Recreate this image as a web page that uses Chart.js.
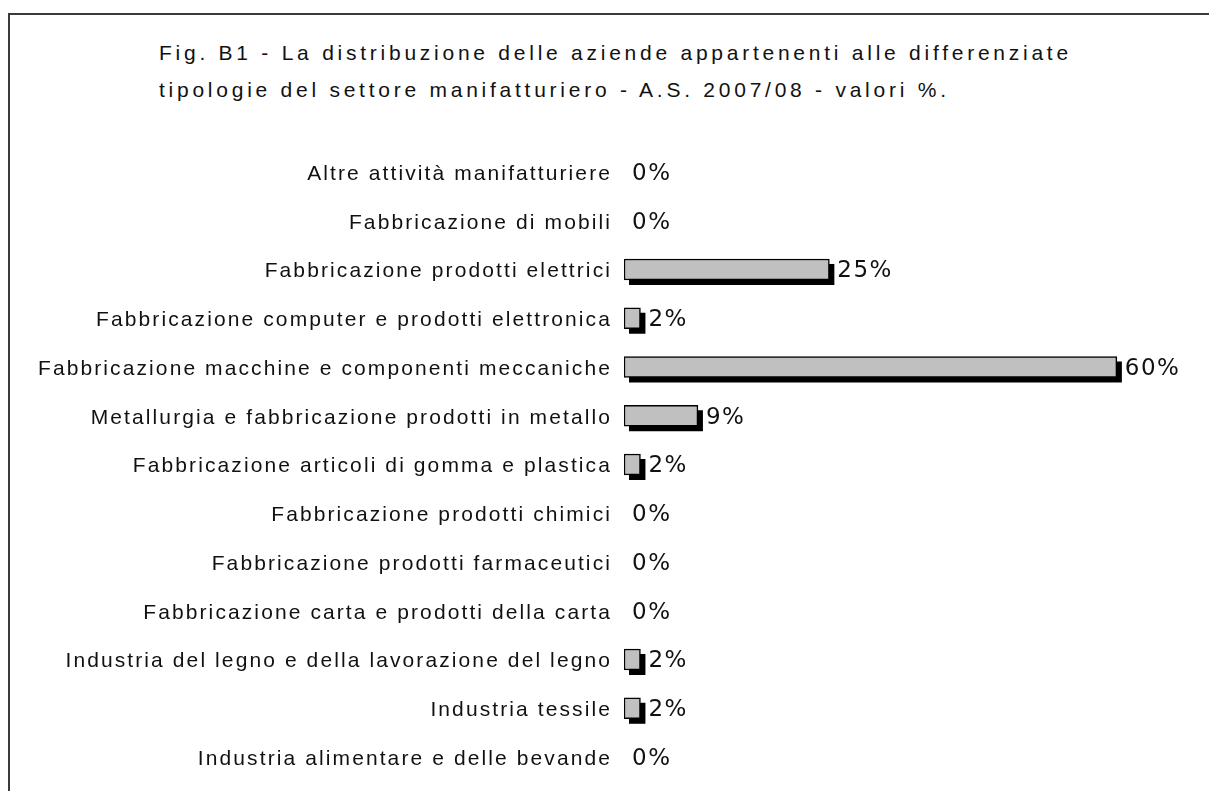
<!DOCTYPE html>
<html>
<head>
<meta charset="utf-8">
<script src="https://cdn.jsdelivr.net/npm/chart.js@4/dist/chart.umd.min.js"></script>
<style>
  html, body { margin: 0; padding: 0; background: #fff; overflow: hidden; }
  #frame {
    position: absolute; left: 8px; top: 13px; width: 1400px; height: 1000px;
    border: 2px solid #3a3a3a; box-sizing: border-box;
  }
  #titolo {
    position: absolute; left: 159px; top: 34px;
    font-family: "Liberation Sans", Arial, sans-serif; font-size: 21px;
    letter-spacing: 3.75px; line-height: 37px; color: #111; white-space: nowrap;
  }
  #wrap { position: absolute; left: 0; top: 0; width: 1209px; height: 791px; }
</style>
</head>
<body>
<div id="frame"></div>
<div id="titolo">Fig. B1 - La distribuzione delle aziende appartenenti alle differenziate<br>tipologie del settore manifatturiero - A.S. 2007/08 - valori %.</div>
<div id="wrap"><canvas id="grafico"></canvas></div>
<script>
// Categorie (dall'alto verso il basso)
const categorie = [
    "Altre attività manifatturiere",
    "Fabbricazione di mobili",
    "Fabbricazione prodotti elettrici",
    "Fabbricazione computer e prodotti elettronica",
    "Fabbricazione macchine e componenti meccaniche",
    "Metallurgia e fabbricazione prodotti in metallo",
    "Fabbricazione articoli di gomma e plastica",
    "Fabbricazione prodotti chimici",
    "Fabbricazione prodotti farmaceutici",
    "Fabbricazione carta e prodotti della carta",
    "Industria del legno e della lavorazione del legno",
    "Industria tessile",
    "Industria alimentare e delle bevande"
];

// Valori %
const valori = [0, 0, 25, 2, 60, 9, 2, 0, 0, 0, 2, 2, 0];

// Plugin: ombra nera sotto le barre (disegnata dalle posizioni degli elementi)
const ombraBarre = {
    id: 'ombraBarre',
    beforeDatasetsDraw(chart) {
        const ctx = chart.ctx;
        const meta = chart.getDatasetMeta(0);
        ctx.save();
        ctx.fillStyle = '#000';
        meta.data.forEach((bar, i) => {
            if (!valori[i]) return;
            const p = bar.getProps(['x', 'y', 'base', 'height'], true);
            ctx.fillRect(p.base + 5, p.y - p.height / 2 + 5, p.x - p.base, p.height);
        });
        ctx.restore();
    }
};

// Plugin: etichette dei valori
const etichetteValori = {
    id: 'etichetteValori',
    afterDatasetsDraw(chart) {
        const ctx = chart.ctx;
        const meta = chart.getDatasetMeta(0);
        ctx.save();
        ctx.letterSpacing = '1.5px';
        ctx.font = '23px "DejaVu Sans", sans-serif';
        ctx.fillStyle = '#111';
        ctx.textAlign = 'left';
        ctx.textBaseline = 'middle';
        meta.data.forEach((bar, i) => {
            ctx.fillText(valori[i] + '%', bar.x + 8, bar.y + 2);
        });
        ctx.restore();
    }
};

// Plugin: spaziatura lettere per le etichette dell'asse
const spaziatura = {
    id: 'spaziatura',
    beforeDraw(chart) {
        chart.ctx.letterSpacing = '2.1px';
    }
};

const ctx = document.getElementById('grafico').getContext('2d');
new Chart(ctx, {
    type: 'bar',
    data: {
        labels: categorie,
        datasets: [{
            data: valori,
            backgroundColor: '#c0c0c0',
            borderColor: '#000',
            borderWidth: 1.5,
            borderSkipped: false,
            barThickness: 21
        }]
    },
    options: {
        indexAxis: 'y',
        responsive: true,
        maintainAspectRatio: false,
        animation: false,
        layout: {
            padding: { top: 147.6, bottom: 9.6, left: 0, right: 10 }
        },
        plugins: {
            legend: { display: false },
            tooltip: { enabled: false }
        },
        scales: {
            x: {
                display: false,
                min: 0,
                max: 70
            },
            y: {
                grid: { display: false, drawTicks: false },
                border: { display: false },
                ticks: {
                    padding: 12,
                    labelOffset: 2,
                    color: '#111',
                    font: { family: "'Liberation Sans', Arial, sans-serif", size: 21 }
                },
                afterFit(scale) {
                    scale.width = 624;
                    scale.paddingTop = 0;
                    scale.paddingBottom = 0;
                }
            }
        }
    },
    plugins: [spaziatura, ombraBarre, etichetteValori]
});
</script>
</body>
</html>
